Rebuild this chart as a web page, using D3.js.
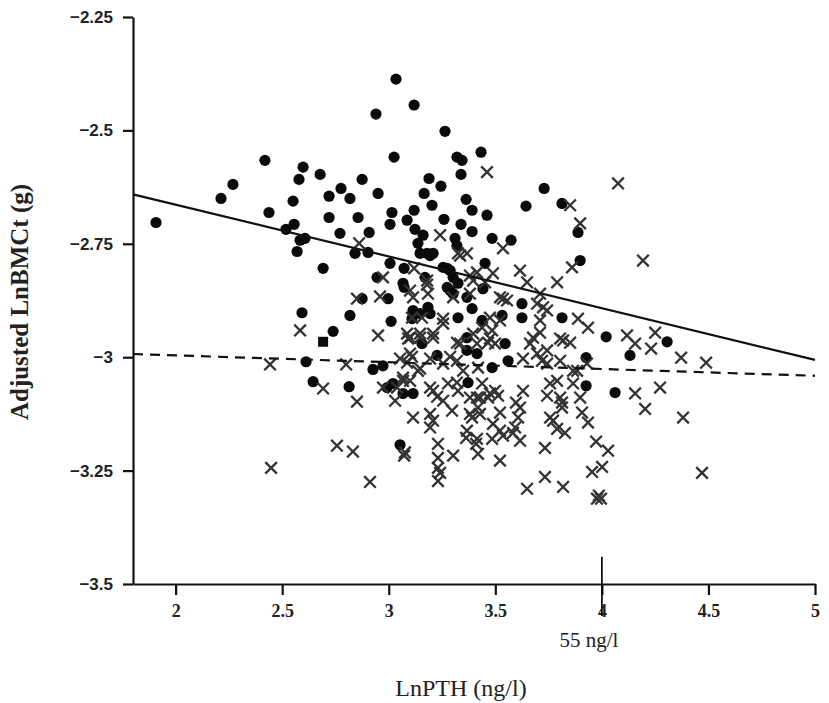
<!DOCTYPE html>
<html>
<head>
<meta charset="utf-8">
<script src="https://cdn.jsdelivr.net/npm/d3@7"></script>
<style>
  body { margin: 0; background: #fff; }
</style>
</head>
<body>
<script>
// x ticks / y ticks
var xTicks = [2, 2.5, 3, 3.5, 4, 4.5, 5]
var xTickLabels = ['2', '2.5', '3', '3.5', '4', '4.5', '5']
var yTicks = [-2.25, -2.5, -2.75, -3, -3.25, -3.5]
var yTickLabels = ['\u22122.25', '\u22122.5', '\u22122.75', '\u22123', '\u22123.25', '\u22123.5']

// cut-off marked on the x axis
var cutoffValue = 4.0
var cutoffLabel = '55 ng/l'

// fitted lines [LnPTH, adjusted LnBMCt]
var solidFit = [[1.8, -2.641], [5, -3.006]]
var dashedFit = [[1.8, -2.993], [5, -3.041]]

// filled circles
var groupDots = [
  [1.908,-2.703],[2.213,-2.650],[2.269,-2.619],[2.419,-2.566],[2.438,-2.681],[2.598,-2.581],[2.579,-2.608],
  [2.678,-2.597],[2.551,-2.656],[2.720,-2.645],[2.776,-2.628],[2.720,-2.692],[2.556,-2.707],[2.518,-2.718],
  [2.584,-2.742],[2.607,-2.738],[2.570,-2.767],[2.771,-2.727],[3.034,-2.387],[3.119,-2.444],[2.940,-2.464],
  [3.264,-2.502],[3.025,-2.559],[3.433,-2.548],[3.320,-2.559],[3.344,-2.566],[3.339,-2.597],[2.875,-2.608],
  [3.189,-2.606],[3.245,-2.623],[2.818,-2.650],[2.950,-2.639],[3.166,-2.639],[3.363,-2.652],[3.391,-2.676],
  [3.203,-2.665],[3.461,-2.687],[3.644,-2.667],[2.856,-2.692],[3.015,-2.681],[3.119,-2.676],[3.086,-2.698],
  [3.006,-2.707],[3.259,-2.696],[3.339,-2.707],[3.391,-2.723],[3.485,-2.738],[3.574,-2.742],[2.908,-2.725],
  [3.123,-2.718],[3.161,-2.731],[3.137,-2.749],[3.311,-2.738],[3.320,-2.754],[2.842,-2.771],[2.903,-2.769],
  [3.180,-2.771],[3.208,-2.771],[2.692,-2.804],[2.945,-2.824],[3.006,-2.793],[3.072,-2.804],[3.072,-2.846],
  [2.997,-2.871],[2.875,-2.871],[2.818,-2.908],[3.011,-2.921],[2.593,-2.902],[2.739,-2.943],[2.612,-3.010],
  [2.645,-3.054],[2.814,-3.065],[2.926,-3.027],[2.973,-3.019],[2.992,-3.067],[3.053,-3.193],[3.729,-2.628],
  [3.813,-2.661],[3.888,-2.725],[3.898,-2.787],[3.813,-2.913],[4.020,-2.955],[4.132,-2.996],[4.306,-2.966],
  [3.926,-3.001],[3.926,-3.063],[4.062,-3.078],[3.625,-2.882],[3.625,-2.913],[3.147,-2.771],[3.274,-2.804],
  [3.274,-2.846],[3.170,-2.824],[3.184,-2.890],[3.147,-2.904],[3.109,-2.915],[3.452,-2.793],[3.255,-2.802],
  [3.302,-2.824],[3.325,-2.837],[3.288,-2.853],[3.302,-2.860],[3.367,-2.868],[3.442,-2.849],[3.114,-2.897],
  [3.194,-2.904],[3.325,-2.913],[3.438,-2.919],[3.367,-2.957],[3.156,-2.970],[3.067,-2.837],[3.067,-3.080],
  [3.114,-3.080],[3.194,-2.776],[3.288,-2.809],[3.391,-2.893],[3.532,-2.908],[3.367,-2.985],[3.414,-2.992],
  [3.485,-3.023],[3.546,-2.970],[3.560,-3.008],[3.020,-3.058],[3.372,-3.056],[3.227,-2.996]
]

// one square marker
var squareMarks = [[2.692, -2.966]]

// crosses
var groupCrosses = [
  [2.861,-2.749],[3.241,-2.731],[3.119,-2.804],[2.973,-2.824],[2.959,-2.866],[2.851,-2.871],[3.114,-2.868],
  [3.180,-2.831],[2.584,-2.941],[2.950,-2.952],[3.091,-2.959],[3.147,-2.948],[3.208,-2.957],[3.255,-2.915],
  [3.109,-2.913],[3.461,-2.592],[3.325,-2.771],[3.367,-2.771],[3.536,-2.760],[2.443,-3.016],[2.800,-3.016],
  [2.692,-3.069],[2.851,-3.098],[2.973,-3.067],[3.030,-3.096],[2.757,-3.195],[2.832,-3.208],[2.448,-3.244],
  [2.912,-3.275],[3.072,-3.217],[3.231,-3.191],[3.231,-3.222],[3.231,-3.244],[3.231,-3.273],[3.194,-3.125],
  [3.194,-3.155],[4.076,-2.617],[4.193,-2.787],[3.851,-2.665],[3.898,-2.705],[3.860,-2.802],[3.790,-2.835],
  [3.649,-2.835],[3.616,-2.809],[3.710,-2.860],[3.724,-2.890],[3.710,-2.919],[3.888,-2.915],[3.935,-2.935],
  [3.804,-2.959],[3.851,-2.968],[4.118,-2.952],[4.156,-2.970],[4.231,-2.981],[4.250,-2.946],[4.372,-3.001],
  [4.489,-3.012],[4.273,-3.067],[4.156,-3.080],[4.203,-3.114],[4.381,-3.133],[4.470,-3.255],[3.663,-2.970],
  [3.696,-2.992],[3.743,-2.985],[3.804,-3.008],[3.865,-3.030],[3.790,-3.052],[3.865,-3.058],[3.630,-3.074],
  [3.733,-3.200],[3.649,-3.290],[3.733,-3.264],[3.818,-3.286],[3.954,-3.253],[4.001,-3.242],[4.029,-3.206],
  [3.973,-3.186],[3.977,-3.312],[3.996,-3.312],[3.986,-3.305],[3.935,-3.144],[3.907,-3.122],[3.827,-3.167],
  [3.790,-3.158],[3.757,-3.133],[3.743,-3.085],[3.813,-3.100],[3.607,-3.133],[3.616,-3.184],[3.583,-3.167],
  [3.522,-3.228],[3.419,-3.213],[3.414,-3.180],[3.485,-3.180],[3.536,-3.173],[3.367,-3.162],[3.428,-3.125],
  [3.381,-3.125],[3.522,-3.122],[3.513,-3.085],[3.428,-3.089],[3.302,-3.217],[3.208,-3.140],[3.255,-3.096],
  [3.597,-3.100],[3.593,-3.155],[3.522,-3.162],[3.489,-3.147],[3.466,-3.089],[3.499,-3.074],[3.438,-3.058],
  [3.325,-3.074],[3.297,-3.118],[3.208,-3.074],[3.241,-3.255],[3.114,-3.133],[3.076,-3.210],[3.067,-3.052],
  [3.255,-3.014],[3.320,-3.008],[3.349,-3.030],[3.419,-3.023],[3.499,-2.970],[3.485,-2.941],[3.522,-2.919],
  [3.555,-2.875],[3.677,-2.957],[3.696,-2.882],[3.743,-3.014],[3.818,-2.963],[3.930,-3.014],[3.884,-3.030],
  [3.255,-2.926],[3.335,-2.970],[3.208,-2.948],[3.147,-2.957],[3.100,-2.957],[3.100,-2.992],[3.086,-3.012],
  [3.147,-3.025],[3.100,-3.052],[3.414,-2.970],[3.466,-2.968],[3.438,-2.935],[3.522,-2.868],[3.381,-2.820],
  [3.414,-2.813],[3.396,-2.831],[3.489,-2.815],[3.302,-2.868],[3.180,-2.840],[3.335,-2.776],[3.898,-3.089],
  [3.757,-3.058],[3.804,-3.089],[3.813,-3.111],[3.771,-3.140],[3.410,-3.191],[3.363,-3.178],[3.391,-3.133],
  [3.419,-3.111],[3.381,-3.089],[3.743,-2.897],[3.710,-2.946],[3.630,-3.003],[3.719,-3.008],[3.536,-2.871],
  [3.475,-2.913],[3.475,-2.959],[3.396,-2.948],[3.320,-2.968],[3.288,-2.999],[3.109,-2.999],[3.053,-3.003],
  [3.137,-3.030],[3.067,-3.045],[3.039,-3.067],[3.194,-3.067],[3.227,-3.087],[3.278,-3.058],[3.320,-3.056],
  [3.414,-3.089],[3.475,-3.080],[3.616,-3.111],[3.381,-2.860],[3.452,-2.835],[3.100,-2.853],[3.184,-2.860],
  [3.156,-2.913],[3.086,-2.948],[3.194,-3.003]
]

var width = 829
var height = 703

// scales
var xScale = d3.scaleLinear()
    .domain([1.8, 5])
    .range([133, 815])

var yScale = d3.scaleLinear()
    .domain([-2.25, -3.5])
    .range([17, 584])

var svg = d3.select('body').append('svg')
    .attr('width', width)
    .attr('height', height)
    .style('background', '#fff')

// axes
var yAxisG = svg.append('g')
    .attr('transform', 'translate(' + xScale(1.8) + ',0)')
    .call(d3.axisLeft(yScale)
        .tickValues(yTicks)
        .tickSize(10)
        .tickSizeOuter(0)
        .tickPadding(10)
        .tickFormat(function(d, i){ return yTickLabels[i] }))
yAxisG.selectAll('path, line')
    .attr('stroke', '#111')
    .attr('stroke-width', 2.2)
yAxisG.selectAll('text')
    .attr('font-family', '"Liberation Sans", Arial, sans-serif')
    .attr('font-weight', 'bold')
    .attr('font-size', 17)
    .attr('fill', '#222')

var xAxisG = svg.append('g')
    .attr('transform', 'translate(0,' + yScale(-3.5) + ')')
    .call(d3.axisBottom(xScale)
        .tickValues(xTicks)
        .tickSize(11)
        .tickSizeOuter(0)
        .tickPadding(9)
        .tickFormat(function(d, i){ return xTickLabels[i] }))
xAxisG.selectAll('path, line')
    .attr('stroke', '#111')
    .attr('stroke-width', 2.2)
xAxisG.selectAll('text')
    .attr('font-family', '"Liberation Serif", "Times New Roman", serif')
    .attr('font-weight', 'bold')
    .attr('font-size', 18)
    .attr('fill', '#222')

// cut-off marker line
svg.append('line')
    .attr('x1', xScale(cutoffValue))
    .attr('x2', xScale(cutoffValue))
    .attr('y1', yScale(-3.44))
    .attr('y2', yScale(-3.5) + 32)
    .attr('stroke', '#111')
    .attr('stroke-width', 1.8)

svg.append('text')
    .attr('x', xScale(cutoffValue) - 13)
    .attr('y', 647)
    .attr('text-anchor', 'middle')
    .attr('font-family', '"Liberation Serif", "Times New Roman", serif')
    .attr('font-size', 21)
    .attr('fill', '#222')
    .text(cutoffLabel)

// axis titles
svg.append('text')
    .attr('transform', 'translate(28,302) rotate(-90)')
    .attr('text-anchor', 'middle')
    .attr('font-family', '"Liberation Serif", "Times New Roman", serif')
    .attr('font-weight', 'bold')
    .attr('font-size', 25)
    .attr('fill', '#222')
    .text('Adjusted LnBMCt (g)')

svg.append('text')
    .attr('x', 461)
    .attr('y', 696)
    .attr('text-anchor', 'middle')
    .attr('font-family', '"Liberation Serif", "Times New Roman", serif')
    .attr('font-size', 24)
    .attr('fill', '#222')
    .text('LnPTH (ng/l)')

// points
var chart = svg.append('g')

chart.selectAll('circle.dot')
    .data(groupDots)
    .enter().append('circle')
    .attr('class', 'dot')
    .attr('cx', function(d){ return xScale(d[0]) })
    .attr('cy', function(d){ return yScale(d[1]) })
    .attr('r', 5.6)
    .attr('fill', '#0a0a0a')

chart.selectAll('rect.sq')
    .data(squareMarks)
    .enter().append('rect')
    .attr('class', 'sq')
    .attr('x', function(d){ return xScale(d[0]) - 5 })
    .attr('y', function(d){ return yScale(d[1]) - 5 })
    .attr('width', 10)
    .attr('height', 10)
    .attr('fill', '#0a0a0a')

chart.selectAll('path.cross')
    .data(groupCrosses)
    .enter().append('path')
    .attr('class', 'cross')
    .attr('transform', function(d){ return 'translate(' + xScale(d[0]) + ',' + yScale(d[1]) + ')' })
    .attr('d', 'M-5.8,-5.8L5.8,5.8M-5.8,5.8L5.8,-5.8')
    .attr('stroke', '#333')
    .attr('stroke-width', 2.3)
    .attr('fill', 'none')

// fitted lines
var line = d3.line()
    .x(function(d){ return xScale(d[0]) })
    .y(function(d){ return yScale(d[1]) })

svg.append('path')
    .datum(solidFit)
    .attr('d', line)
    .attr('stroke', '#111')
    .attr('stroke-width', 2.2)
    .attr('fill', 'none')

svg.append('path')
    .datum(dashedFit)
    .attr('d', line)
    .attr('stroke', '#111')
    .attr('stroke-width', 2.2)
    .attr('stroke-dasharray', '10,7')
    .attr('fill', 'none')
</script>
</body>
</html>
